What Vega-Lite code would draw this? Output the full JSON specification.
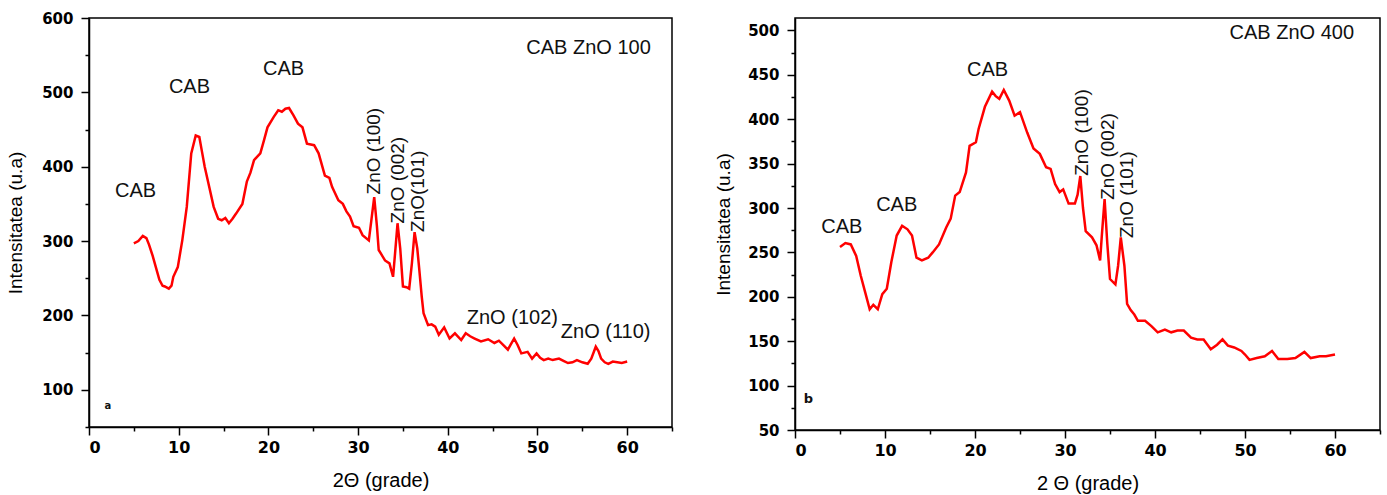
{
  "$schema": "https://vega.github.io/schema/vega-lite/v6.json",
  "background": "white",
  "padding": {"left": 5, "top": 10, "right": 3, "bottom": 5},
  "config": {
    "view": {"stroke": "#000", "strokeWidth": 1.5},
    "concat": {"spacing": 39},
    "axis": {
      "grid": false,
      "domainColor": "#000",
      "domainWidth": 1.5,
      "tickColor": "#000",
      "tickWidth": 1.5,
      "tickCount": 100,
      "format": "d",
      "labelFont": "DejaVu Sans",
      "labelFontWeight": "bold",
      "labelFontSize": 15,
      "labelColor": "#000",
      "labelOverlap": false,
      "titleFont": "Liberation Sans",
      "titleFontWeight": "normal",
      "titleFontSize": 19,
      "titleColor": "#000"
    },
    "text": {"font": "Liberation Sans", "fontSize": 19, "color": "#111"}
  },
  "datasets": {
    "a": [
      {"t":5.0,"i":297},{"t":5.5,"i":300},{"t":6.0,"i":307},{"t":6.4,"i":304},{"t":6.7,"i":295},{"t":7.1,"i":280},{"t":7.45,"i":265},{"t":7.85,"i":248},{"t":8.2,"i":240},{"t":8.45,"i":239},{"t":8.9,"i":236},{"t":9.2,"i":240},{"t":9.4,"i":252},{"t":9.9,"i":265},{"t":10.4,"i":301},{"t":10.9,"i":346},{"t":11.4,"i":418},{"t":11.9,"i":442},{"t":12.3,"i":440},{"t":12.6,"i":420},{"t":12.9,"i":400},{"t":13.4,"i":373},{"t":13.9,"i":346},{"t":14.4,"i":330},{"t":14.8,"i":328},{"t":15.2,"i":331},{"t":15.6,"i":324},{"t":16.0,"i":330},{"t":16.4,"i":337},{"t":17.1,"i":350},{"t":17.6,"i":380},{"t":18.0,"i":392},{"t":18.4,"i":409},{"t":19.1,"i":418},{"t":19.5,"i":435},{"t":19.9,"i":453},{"t":20.6,"i":467},{"t":21.1,"i":476},{"t":21.5,"i":474},{"t":21.9,"i":478},{"t":22.3,"i":479},{"t":22.8,"i":469},{"t":23.3,"i":458},{"t":23.8,"i":453},{"t":24.3,"i":431},{"t":25.1,"i":429},{"t":25.6,"i":418},{"t":26.3,"i":388},{"t":26.8,"i":385},{"t":27.1,"i":373},{"t":27.8,"i":355},{"t":28.3,"i":350},{"t":28.7,"i":340},{"t":29.1,"i":333},{"t":29.5,"i":320},{"t":29.8,"i":319},{"t":30.1,"i":318},{"t":30.5,"i":308},{"t":31.2,"i":301},{"t":31.5,"i":330},{"t":31.8,"i":359},{"t":32.1,"i":320},{"t":32.3,"i":288},{"t":32.6,"i":282},{"t":33.0,"i":274},{"t":33.5,"i":270},{"t":33.9,"i":252},{"t":34.1,"i":280},{"t":34.4,"i":324},{"t":34.7,"i":290},{"t":35.0,"i":239},{"t":35.4,"i":238},{"t":35.7,"i":236},{"t":36.0,"i":270},{"t":36.3,"i":312},{"t":36.6,"i":290},{"t":36.8,"i":265},{"t":37.1,"i":225},{"t":37.3,"i":203},{"t":37.8,"i":187},{"t":38.2,"i":188},{"t":38.6,"i":185},{"t":39.0,"i":174},{"t":39.6,"i":184},{"t":40.2,"i":169},{"t":40.8,"i":176},{"t":41.5,"i":167},{"t":42.0,"i":176},{"t":42.5,"i":172},{"t":43.0,"i":169},{"t":43.7,"i":165},{"t":44.5,"i":168},{"t":45.2,"i":163},{"t":45.7,"i":166},{"t":46.2,"i":160},{"t":46.7,"i":154},{"t":47.4,"i":169},{"t":47.8,"i":160},{"t":48.2,"i":149},{"t":48.9,"i":151},{"t":49.4,"i":142},{"t":49.9,"i":149},{"t":50.3,"i":143},{"t":50.7,"i":140},{"t":51.2,"i":142},{"t":51.7,"i":140},{"t":52.4,"i":142},{"t":52.9,"i":139},{"t":53.4,"i":136},{"t":53.9,"i":137},{"t":54.4,"i":140},{"t":55.0,"i":137},{"t":55.6,"i":135},{"t":56.0,"i":142},{"t":56.5,"i":158},{"t":56.8,"i":152},{"t":57.1,"i":142},{"t":57.5,"i":137},{"t":57.9,"i":135},{"t":58.4,"i":138},{"t":58.9,"i":137},{"t":59.4,"i":136},{"t":60.0,"i":138}
    ],
    "b": [
      {"t":5.0,"i":256},{"t":5.6,"i":260.5},{"t":6.2,"i":259},{"t":6.8,"i":246},{"t":7.3,"i":224},{"t":7.8,"i":205},{"t":8.3,"i":186},{"t":8.7,"i":191},{"t":9.2,"i":186},{"t":9.7,"i":203},{"t":10.2,"i":209},{"t":10.7,"i":239},{"t":11.3,"i":269},{"t":11.9,"i":280},{"t":12.5,"i":276},{"t":13.0,"i":269},{"t":13.5,"i":244},{"t":14.1,"i":241},{"t":14.8,"i":244},{"t":15.3,"i":250},{"t":16.0,"i":259},{"t":16.8,"i":278},{"t":17.3,"i":288},{"t":17.8,"i":314},{"t":18.3,"i":318},{"t":19.0,"i":340},{"t":19.4,"i":370},{"t":20.1,"i":374},{"t":20.4,"i":389},{"t":21.1,"i":414},{"t":21.9,"i":431},{"t":22.3,"i":426},{"t":22.7,"i":423},{"t":23.2,"i":433},{"t":23.8,"i":421},{"t":24.4,"i":404},{"t":25.0,"i":408},{"t":25.8,"i":385},{"t":26.5,"i":367},{"t":27.2,"i":361},{"t":27.9,"i":346},{"t":28.4,"i":344},{"t":28.9,"i":327},{"t":29.4,"i":318},{"t":29.8,"i":321},{"t":30.4,"i":305},{"t":31.1,"i":305},{"t":31.4,"i":315},{"t":31.7,"i":336},{"t":32.0,"i":300},{"t":32.3,"i":274},{"t":33.0,"i":267},{"t":33.5,"i":258},{"t":33.9,"i":241},{"t":34.1,"i":270},{"t":34.4,"i":310},{"t":34.7,"i":260},{"t":35.0,"i":220},{"t":35.6,"i":214},{"t":35.9,"i":235},{"t":36.2,"i":267},{"t":36.6,"i":235},{"t":36.9,"i":192},{"t":37.3,"i":185},{"t":37.7,"i":180},{"t":38.1,"i":173},{"t":38.9,"i":173},{"t":39.6,"i":167},{"t":40.3,"i":160},{"t":41.1,"i":163},{"t":41.8,"i":160},{"t":42.5,"i":162},{"t":43.2,"i":162},{"t":44.0,"i":154},{"t":44.7,"i":152},{"t":45.4,"i":152},{"t":46.2,"i":141},{"t":46.9,"i":146},{"t":47.5,"i":152},{"t":48.1,"i":145},{"t":48.8,"i":143},{"t":49.6,"i":139},{"t":50.0,"i":135},{"t":50.5,"i":129},{"t":51.3,"i":131},{"t":52.2,"i":133},{"t":53.0,"i":139},{"t":53.7,"i":130},{"t":54.7,"i":130},{"t":55.6,"i":131},{"t":56.6,"i":138},{"t":57.3,"i":131},{"t":58.3,"i":133},{"t":59.0,"i":133},{"t":60.0,"i":135}
    ],
    "aH": [
      {"t":5.2,"i":368,"label":"CAB"},
      {"t":11.2,"i":507,"label":"CAB"},
      {"t":21.7,"i":532,"label":"CAB"},
      {"t":55.7,"i":559,"label":"CAB ZnO 100"},
      {"t":47.2,"i":197,"label":"ZnO (102)"},
      {"t":57.6,"i":178,"label":"ZnO (110)"}
    ],
    "aV": [
      {"t":31.8,"i":421,"label":"ZnO (100)"},
      {"t":34.4,"i":382,"label":"ZnO (002)"},
      {"t":36.7,"i":367,"label":"ZnO(101)"}
    ],
    "bH": [
      {"t":5.2,"i":279,"label":"CAB"},
      {"t":11.3,"i":303,"label":"CAB"},
      {"t":21.4,"i":455,"label":"CAB"},
      {"t":55.2,"i":497,"label":"CAB ZnO 400"}
    ],
    "bV": [
      {"t":31.9,"i":385,"label":"ZnO (100)"},
      {"t":34.8,"i":358,"label":"ZnO (002)"},
      {"t":36.9,"i":315,"label":"ZnO (101)"}
    ]
  },
  "hconcat": [
    {
      "width": 583,
      "height": 409,
      "layer": [
        {
          "data": {"name": "a"},
          "mark": {"type": "line", "color": "#ff0000", "strokeWidth": 2.5},
          "encoding": {
            "x": {"field": "t", "type": "quantitative", "scale": {"domain": [0, 65], "nice": false},
              "axis": {"title": "2Θ (grade)", "titleFontSize": 20, "tickCount": 100, "format": "d", "values": [0,5,10,15,20,25,30,35,40,45,50,55,60,65], "labelExpr": "datum.value % 10 === 0 ? datum.label : ''", "tickSize": {"condition": {"test": "datum.value % 10 === 0", "value": 8}, "value": 4}, "labelPadding": 4, "labelFontSize": 16, "titlePadding": 15}},
            "y": {"field": "i", "type": "quantitative", "scale": {"domain": [50, 600], "nice": false},
              "axis": {"title": "Intensitatea  (u.a)", "tickCount": 100, "format": "d", "values": [50,100,150,200,250,300,350,400,450,500,550,600], "labelExpr": "datum.value % 100 === 0 ? datum.label : ''", "tickSize": {"condition": {"test": "datum.value % 100 === 0", "value": 8}, "value": 4}, "labelPadding": 8, "titlePadding": 16}}
          }
        },
        {
          "data": {"name": "aH"},
          "mark": {"type": "text", "align": "center", "baseline": "middle", "fontSize": 20},
          "encoding": {"x": {"field": "t", "type": "quantitative"}, "y": {"field": "i", "type": "quantitative"}, "text": {"field": "label"}}
        },
        {
          "data": {"name": "aV"},
          "mark": {"type": "text", "align": "center", "baseline": "middle", "angle": 270},
          "encoding": {"x": {"field": "t", "type": "quantitative"}, "y": {"field": "i", "type": "quantitative"}, "text": {"field": "label"}}
        },
        {
          "data": {"values": [{"t": 2.1, "i": 78, "label": "a"}]},
          "mark": {"type": "text", "align": "center", "baseline": "middle", "fontSize": 10, "fontWeight": "bold", "font": "DejaVu Sans"},
          "encoding": {"x": {"field": "t", "type": "quantitative"}, "y": {"field": "i", "type": "quantitative"}, "text": {"field": "label"}}
        }
      ]
    },
    {
      "width": 585,
      "height": 412,
      "layer": [
        {
          "data": {"name": "b"},
          "mark": {"type": "line", "color": "#ff0000", "strokeWidth": 2.5},
          "encoding": {
            "x": {"field": "t", "type": "quantitative", "scale": {"domain": [0, 65], "nice": false},
              "axis": {"title": "2 Θ (grade)", "titleFontSize": 20, "tickCount": 100, "format": "d", "values": [0,5,10,15,20,25,30,35,40,45,50,55,60,65], "labelExpr": "datum.value % 10 === 0 ? datum.label : ''", "tickSize": {"condition": {"test": "datum.value % 10 === 0", "value": 8}, "value": 4}, "labelPadding": 4, "labelFontSize": 16, "titlePadding": 15}},
            "y": {"field": "i", "type": "quantitative", "scale": {"domain": [50, 514], "nice": false},
              "axis": {"title": "Intensitatea (u.a)", "tickCount": 100, "format": "d", "values": [50,75,100,125,150,175,200,225,250,275,300,325,350,375,400,425,450,475,500], "labelExpr": "datum.value % 50 === 0 ? datum.label : ''", "tickSize": {"condition": {"test": "datum.value % 50 === 0", "value": 8}, "value": 4}, "labelPadding": 8, "titlePadding": 14}}
          }
        },
        {
          "data": {"name": "bH"},
          "mark": {"type": "text", "align": "center", "baseline": "middle", "fontSize": 20},
          "encoding": {"x": {"field": "t", "type": "quantitative"}, "y": {"field": "i", "type": "quantitative"}, "text": {"field": "label"}}
        },
        {
          "data": {"name": "bV"},
          "mark": {"type": "text", "align": "center", "baseline": "middle", "angle": 270},
          "encoding": {"x": {"field": "t", "type": "quantitative"}, "y": {"field": "i", "type": "quantitative"}, "text": {"field": "label"}}
        },
        {
          "data": {"values": [{"t": 1.5, "i": 85, "label": "b"}]},
          "mark": {"type": "text", "align": "center", "baseline": "middle", "fontSize": 13, "fontWeight": "bold", "font": "DejaVu Sans"},
          "encoding": {"x": {"field": "t", "type": "quantitative"}, "y": {"field": "i", "type": "quantitative"}, "text": {"field": "label"}}
        }
      ]
    }
  ]
}
